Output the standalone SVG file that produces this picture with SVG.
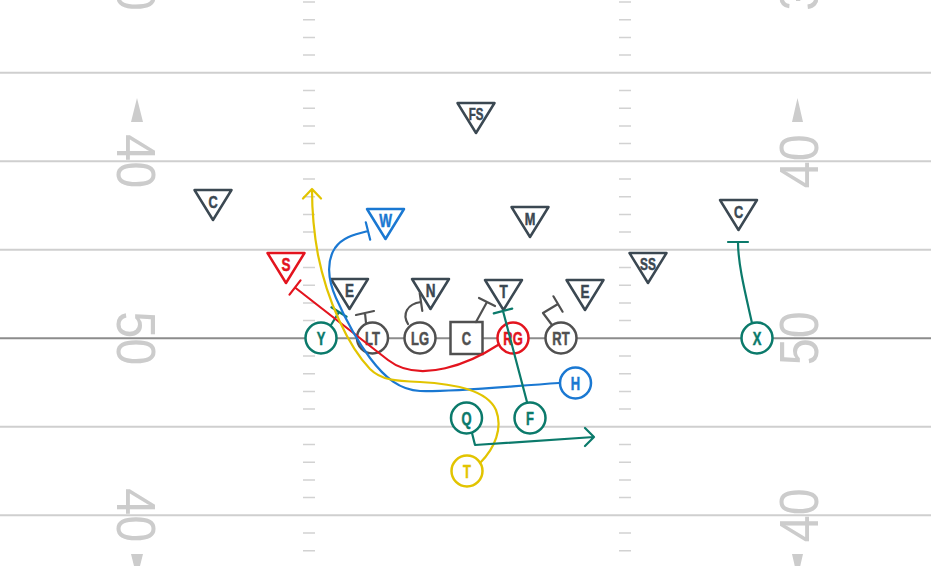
<svg xmlns="http://www.w3.org/2000/svg" width="931" height="566" viewBox="0 0 931 566">
<style>
.yl{stroke:#cfcfcf;stroke-width:2;fill:none}
.mid{stroke:#8c8c8c;stroke-width:2;fill:none}
.hash{stroke:#d2d2d2;stroke-width:1.5;fill:none}
.num{font-family:"Liberation Sans",Arial,sans-serif;font-size:56px;fill:#cccccc;text-anchor:middle}
.arr{fill:#cccccc}
.tri{fill:#fff;stroke-width:2.5;stroke-linejoin:round}
.cir{fill:#fff;stroke-width:2.5}
.lbl{font-family:"Liberation Sans",Arial,sans-serif;font-weight:bold;text-anchor:middle}
.d{stroke:#3b4852;fill:#3b4852}
.g{stroke:#505050;fill:#505050}
.tl{stroke:#0b7a6b;fill:#0b7a6b}
.rd{stroke:#e3141e;fill:#e3141e}
.bl{stroke:#1a78d2;fill:#1a78d2}
.yw{stroke:#e2c400;fill:#e2c400}
.tri.d,.tri.rd,.tri.bl,.cir.tl,.cir.g,.cir.rd,.cir.bl,.cir.yw{fill:#fff}
text.d,text.g,text.tl,text.rd,text.bl,text.yw{stroke-width:0.5}
.rt{fill:none;stroke-width:2.2;stroke-linecap:round;stroke-linejoin:round}
</style>
<rect x="0" y="0" width="931" height="566" fill="#ffffff"/>
<g id="field">
<path class="yl" d="M0,72.8H931M0,161.3H931M0,249.8H931M0,426.8H931M0,515.3H931"/>
<path class="mid" d="M0,338.3H931"/>
<path class="hash" d="M303,2H315M303,19.7H315M303,37.4H315M303,55.1H315M303,90.5H315M303,108.2H315M303,125.9H315M303,143.6H315M303,179H315M303,196.7H315M303,214.4H315M303,232.1H315M303,267.5H315M303,285.2H315M303,302.9H315M303,320.6H315M303,356H315M303,373.7H315M303,391.4H315M303,409.1H315M303,444.5H315M303,462.2H315M303,479.9H315M303,497.6H315M303,533H315M303,550.7H315
M619,2H631M619,19.7H631M619,37.4H631M619,55.1H631M619,90.5H631M619,108.2H631M619,125.9H631M619,143.6H631M619,179H631M619,196.7H631M619,214.4H631M619,232.1H631M619,267.5H631M619,285.2H631M619,302.9H631M619,320.6H631M619,356H631M619,373.7H631M619,391.4H631M619,409.1H631M619,444.5H631M619,462.2H631M619,479.9H631M619,497.6H631M619,533H631M619,550.7H631"/>
<text class="num" transform="translate(137,-16.2) rotate(90)" y="20" textLength="54" lengthAdjust="spacingAndGlyphs">30</text>
<text class="num" transform="translate(137,161.3) rotate(90)" y="20" textLength="54" lengthAdjust="spacingAndGlyphs">40</text>
<text class="num" transform="translate(137,338.3) rotate(90)" y="20" textLength="54" lengthAdjust="spacingAndGlyphs">50</text>
<text class="num" transform="translate(137,515.3) rotate(90)" y="20" textLength="54" lengthAdjust="spacingAndGlyphs">40</text>
<text class="num" transform="translate(798,-16.2) rotate(-90)" y="20" textLength="54" lengthAdjust="spacingAndGlyphs">30</text>
<text class="num" transform="translate(798,161.3) rotate(-90)" y="20" textLength="54" lengthAdjust="spacingAndGlyphs">40</text>
<text class="num" transform="translate(798,338.3) rotate(-90)" y="20" textLength="54" lengthAdjust="spacingAndGlyphs">50</text>
<text class="num" transform="translate(798,515.3) rotate(-90)" y="20" textLength="54" lengthAdjust="spacingAndGlyphs">40</text>
<path class="arr" d="M131,122L137,98L143,122Z M792,122L797.5,98L803,122Z M131,554L137,578L143,554Z M792,554L797.5,578L803,554Z"/>
</g>
<g id="defense">
<g id="d-FS" transform="translate(476,103)"><path class="tri d" d="M-18.5,0H18.5L0,30Z"/><text class="lbl d" font-size="16" y="17.5" transform="scale(0.72,1)">FS</text></g>
<g id="d-C1" transform="translate(213,190)"><path class="tri d" d="M-18.5,0H18.5L0,30Z"/><text class="lbl d" font-size="17" y="18" transform="scale(0.75,1)">C</text></g>
<g id="d-W" transform="translate(385.5,209)"><path class="tri bl" d="M-18.5,0H18.5L0,30Z"/><text class="lbl bl" font-size="18" y="18.5" transform="scale(0.75,1)">W</text></g>
<g id="d-M" transform="translate(530,207)"><path class="tri d" d="M-18.5,0H18.5L0,30Z"/><text class="lbl d" font-size="17" y="18" transform="scale(0.75,1)">M</text></g>
<g id="d-C2" transform="translate(738.5,200)"><path class="tri d" d="M-18.5,0H18.5L0,30Z"/><text class="lbl d" font-size="17" y="18" transform="scale(0.75,1)">C</text></g>
<g id="d-S" transform="translate(286,253)"><path class="tri rd" d="M-18.5,0H18.5L0,30Z"/><text class="lbl rd" font-size="18" y="18" transform="scale(0.75,1)">S</text></g>
<g id="d-SS" transform="translate(648,253)"><path class="tri d" d="M-18.5,0H18.5L0,30Z"/><text class="lbl d" font-size="16.5" y="17.5" transform="scale(0.72,1)">SS</text></g>
<g id="d-E1" transform="translate(349.5,279)"><path class="tri d" d="M-18.5,0H18.5L0,30Z"/><text class="lbl d" font-size="18" y="18" transform="scale(0.75,1)">E</text></g>
<g id="d-N" transform="translate(430.5,279)"><path class="tri d" d="M-18.5,0H18.5L0,30Z"/><text class="lbl d" font-size="18" y="18" transform="scale(0.75,1)">N</text></g>
<g id="d-T" transform="translate(503.5,280)"><path class="tri d" d="M-18.5,0H18.5L0,30Z"/><text class="lbl d" font-size="18" y="18" transform="scale(0.75,1)">T</text></g>
<g id="d-E2" transform="translate(585,280)"><path class="tri d" d="M-18.5,0H18.5L0,30Z"/><text class="lbl d" font-size="18" y="18" transform="scale(0.75,1)">E</text></g>
</g>
<g id="offense">
<g id="o-Y" transform="translate(321,338)"><circle class="cir tl" r="15.5"/><text class="lbl tl" font-size="18" y="6.5" transform="scale(0.72,1)">Y</text></g>
<g id="o-LT" transform="translate(372.5,338)"><circle class="cir g" r="15.5"/><text class="lbl g" font-size="18" y="6.5" transform="scale(0.72,1)">LT</text></g>
<g id="o-LG" transform="translate(420,338)"><circle class="cir g" r="15.5"/><text class="lbl g" font-size="18" y="6.5" transform="scale(0.72,1)">LG</text></g>
<g id="o-C" transform="translate(466.5,338)"><rect class="cir g" x="-16" y="-16" width="32" height="32"/><text class="lbl g" font-size="18" y="6.5" transform="scale(0.72,1)">C</text></g>
<g id="o-RG" transform="translate(513,338)"><circle class="cir rd" r="15.5"/><text class="lbl rd" font-size="18" y="6.5" transform="scale(0.72,1)">RG</text></g>
<g id="o-RT" transform="translate(561,338)"><circle class="cir g" r="15.5"/><text class="lbl g" font-size="18" y="6.5" transform="scale(0.72,1)">RT</text></g>
<g id="o-X" transform="translate(757,338)"><circle class="cir tl" r="15.5"/><text class="lbl tl" font-size="18" y="6.5" transform="scale(0.72,1)">X</text></g>
<g id="o-H" transform="translate(575.5,383)"><circle class="cir bl" r="15.5"/><text class="lbl bl" font-size="18" y="6.5" transform="scale(0.72,1)">H</text></g>
<g id="o-Q" transform="translate(466.5,418)"><circle class="cir tl" r="15.5"/><text class="lbl tl" font-size="18" y="6.5" transform="scale(0.72,1)">Q</text></g>
<g id="o-F" transform="translate(530,418)"><circle class="cir tl" r="15.5"/><text class="lbl tl" font-size="18" y="6.5" transform="scale(0.72,1)">F</text></g>
<g id="o-T" transform="translate(467,471)"><circle class="cir yw" r="15.5"/><text class="lbl yw" font-size="18" y="6.5" transform="scale(0.72,1)">T</text></g>
</g>
<g id="connectors">
<path class="rt" stroke="#505050" d="M366,323L365,313M356,315L374,311"/>
<path class="rt" stroke="#505050" d="M408,324C402,314 407,304 421,302M419.7,293.1L422.3,310.9"/>
<path class="rt" stroke="#505050" d="M476,322L487,302M479,298L495,306"/>
<path class="rt" stroke="#505050" d="M552,325L543,313L558,304M553.4,296.3L562.6,311.7"/>
<path class="rt" stroke="#0b7a6b" d="M331,325L339,312M331.4,307.3L346.6,316.7"/>
<path class="rt" stroke="#e3141e" d="M498,345C472,362 420,385 388,360L295,287.5M289.5,294.6L300.5,280.4"/>
<path class="rt" stroke="#1a78d2" d="M559,383C500,387 450,392 420,391C400,390 385,378 370,358C355,338 345,318 336,298C327,278 327,260 335,248C342,238 352,235 368,231M365.8,222.3L370.2,239.7"/>
<path class="rt" stroke="#e2c400" d="M480,463C495,448 503,428 496,410C487,390 455,384 420,382C395,381 381,380 370,369C348,346 327,300 318,255C313,228 312,205 312,189M303,198.5L312,189L321,198.5"/>
<path class="rt" stroke="#0b7a6b" d="M472,433L475,445L594,437M585,428L594,437L585,446"/>
<path class="rt" stroke="#0b7a6b" d="M527,402L503,311M493.8,313.4L512.2,308.6"/>
<path class="rt" stroke="#0b7a6b" d="M752,323C746,296 738,265 738,242M728,242L748,242"/>
</g>
</svg>
